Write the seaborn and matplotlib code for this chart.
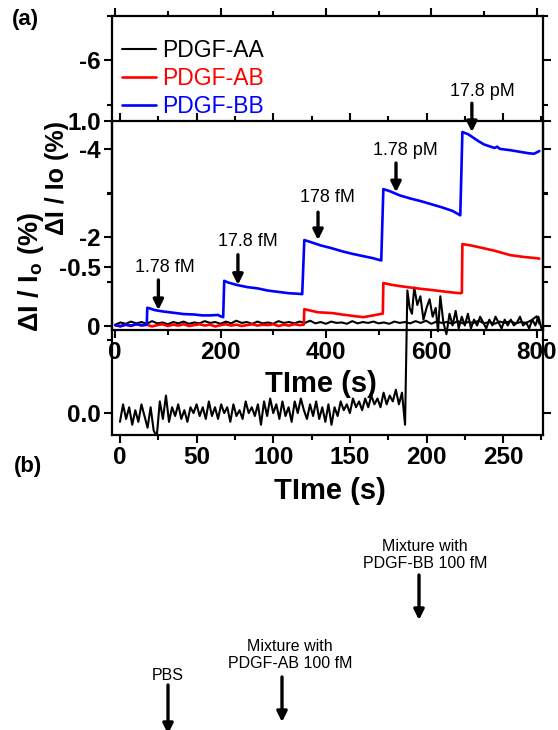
import matplotlib
matplotlib.use("Agg")
import matplotlib.pyplot as plt
import seaborn as sns
import pandas as pd
from matplotlib.ticker import MultipleLocator, FixedLocator, FixedFormatter

# ---------------- data ----------------
# Panel (a): time (s) and dI/I0 (%)
aa_t = [0, 10, 20, 30, 40, 50, 60, 70, 80, 90, 100, 110, 120, 130, 140, 150, 160, 170, 180, 190,
        200, 210, 220, 230, 240, 250, 260, 270, 280, 290, 300, 310, 320, 330, 340, 350, 360, 370, 380, 390,
        400, 410, 420, 430, 440, 450, 460, 470, 480, 490, 500, 510, 520, 530, 540, 550, 560, 570, 580, 590,
        600, 610, 620, 630, 640, 650, 660, 670, 680, 690, 700, 710, 720, 730, 740, 750, 760, 770, 780, 790,
        800, 805]
aa_v = [-0.03, -0.08, -0.05, -0.10, -0.06, -0.09, -0.05, -0.11, -0.06, -0.08, -0.04, -0.09, -0.06, -0.10,
        -0.05, -0.08, -0.06, -0.11, -0.07, -0.09, -0.05, -0.10, -0.06, -0.12, -0.07, -0.09, -0.05, -0.10,
        -0.06, -0.08, -0.05, -0.11, -0.07, -0.09, -0.06, -0.10, -0.07, -0.12, -0.06, -0.09, -0.05, -0.10,
        -0.07, -0.08, -0.05, -0.11, -0.06, -0.09, -0.07, -0.10, -0.06, -0.08, -0.05, -0.10, -0.07, -0.09,
        -0.06, -0.11, -0.07, -0.12, -0.05, -0.10, -0.07, -0.09, -0.05, -0.11, -0.06, -0.09, -0.07, -0.12,
        -0.06, -0.09, -0.05, -0.10, -0.07, -0.11, -0.06, -0.09, -0.07, -0.13, -0.22, -0.05]

ab_t = [0, 10, 20, 30, 40, 50, 60, 70, 80, 90, 100, 110, 120, 130, 140, 150, 160, 170, 180, 190,
        200, 210, 220, 230, 240, 250, 260, 270, 280, 290, 300, 310, 320, 330, 340, 350, 358,
        359, 370, 385, 400, 414, 430, 450, 471, 490, 503, 508,
        509, 525, 541, 560, 580, 603, 630, 655, 658,
        659, 675, 698, 720, 750, 775, 801, 805]
ab_v = [-0.02, 0.01, -0.03, 0.00, -0.04, -0.01, -0.03, 0.01, -0.02, -0.04, 0.00, -0.03, -0.01, -0.04,
        0.00, -0.02, -0.04, -0.01, -0.03, 0.01, -0.02, -0.04, -0.01, -0.03, 0.00, -0.02, -0.04, -0.01,
        -0.03, -0.02, -0.04, 0.00, -0.03, -0.01, -0.04, -0.02, -0.03,
        -0.38, -0.35, -0.31, -0.30, -0.29, -0.26, -0.23, -0.20, -0.24, -0.27, -0.28,
        -0.97, -0.93, -0.90, -0.87, -0.84, -0.81, -0.77, -0.74, -0.75,
        -1.85, -1.82, -1.76, -1.70, -1.60, -1.56, -1.53, -1.52]

bb_t = [0, 10, 20, 30, 40, 50, 60,
        61, 65, 75, 90, 110, 130, 150, 165, 180, 195, 200, 205,
        207, 215, 230, 250, 270, 290, 310, 330, 345, 355,
        359, 370, 390, 410, 430, 450, 470, 490, 505,
        509, 520, 540, 560, 580, 600, 620, 640, 655,
        659, 670, 680, 690, 700, 710, 720, 725, 730, 750, 770, 785, 795, 805]
bb_v = [-0.02, 0.00, -0.03, -0.01, -0.04, -0.02, -0.03,
        -0.41, -0.40, -0.36, -0.33, -0.30, -0.27, -0.26, -0.24, -0.24, -0.25, -0.22, -0.20,
        -1.02, -0.98, -0.93, -0.88, -0.85, -0.80, -0.77, -0.74, -0.73, -0.72,
        -1.94, -1.90, -1.82, -1.76, -1.69, -1.63, -1.58, -1.53, -1.48,
        -3.09, -3.05, -2.95, -2.88, -2.82, -2.75, -2.68, -2.60, -2.50,
        -4.38, -4.33, -4.25, -4.17, -4.10, -4.06, -4.02, -4.05, -4.00, -3.97, -3.93, -3.90, -3.89, -3.95]

# Panel (b): time (s) and dI/I0 (%)
b_t = [0, 2, 4, 6, 8, 10, 12, 14, 16, 18, 20, 22, 24, 26, 28, 30, 32, 34, 36, 38,
       40, 42, 44, 46, 48, 50, 52, 54, 56, 58, 60, 62, 64, 66, 68, 70, 72, 74, 76, 78,
       80, 82, 84, 86, 88, 90, 92, 94, 96, 98, 100, 102, 104, 106, 108, 110, 112, 114, 116, 118,
       120, 122, 124, 126, 128, 130, 132, 134, 136, 138, 140, 142, 144, 146, 148, 150, 152, 154, 156, 158,
       160, 162, 164, 166, 168, 170, 172, 174, 176, 178, 180, 182, 184, 186,
       187.5, 189, 190.5, 192, 194, 196, 198, 200, 202, 204, 206, 207.5, 209, 211, 213, 215, 217, 219,
       221, 223, 225, 227, 229, 231, 233, 235, 237, 239, 241, 243, 245, 247, 249, 251, 253, 255,
       257, 259, 261, 263, 265, 267, 269, 271, 273, 275]
b_v = [0.03, -0.03, 0.02, -0.02, 0.04, -0.01, 0.03, -0.03, 0.01, 0.05, -0.02, 0.06, 0.08, -0.04,
       0.02, -0.06, 0.03, -0.02, 0.01, -0.03, 0.02, -0.01, 0.03, -0.02, 0.00, -0.03, 0.01, -0.02,
       0.02, -0.04, 0.01, -0.02, 0.02, -0.03, 0.00, -0.02, 0.03, -0.03, 0.01, -0.01, 0.02, -0.04,
       0.00, -0.02, 0.01, -0.03, 0.04, -0.04, 0.01, -0.05, 0.00, -0.03, 0.02, -0.04, 0.01, -0.02,
       0.03, -0.04, 0.00, -0.05, -0.01, 0.02, -0.03, 0.01, -0.04, 0.02, -0.02, 0.03, -0.03, 0.04,
       -0.02, 0.01, -0.04, -0.01, -0.03, 0.00, -0.05, -0.02, -0.04, -0.01, -0.05, -0.02, -0.06,
       -0.03, -0.05, -0.02, -0.07, -0.03, -0.06, -0.04, -0.08, -0.03, -0.07, 0.04,
       -0.42, -0.36, -0.34, -0.43, -0.37, -0.40, -0.32, -0.36, -0.39, -0.33, -0.36, -0.28, -0.40,
       -0.31, -0.27, -0.34, -0.30, -0.35, -0.29, -0.33, -0.30, -0.34, -0.29, -0.32, -0.30, -0.33,
       -0.31, -0.29, -0.32, -0.30, -0.33, -0.31, -0.29, -0.32, -0.30, -0.32, -0.30, -0.31, -0.33,
       -0.30, -0.31, -0.29, -0.32, -0.30, -0.33, -0.29]

series_names = ["PDGF-AA", "PDGF-AB", "PDGF-BB"]
series_colors = ["#000000", "#FF0000", "#0000FF"]

conc_labels = ["1.78 fM", "17.8 fM", "178 fM", "1.78 pM", "17.8 pM"]
conc_arrow_t = [82, 233, 385, 533, 677]
conc_arrow_tip = [-0.36, -0.93, -1.94, -3.02, -4.38]
conc_arrow_tail = [-1.04, -1.61, -2.57, -3.68, -5.03]
conc_text_t = [95, 252, 402, 550, 696]
conc_text_v = [-1.31, -1.90, -2.91, -3.97, -5.30]

a_xticks = [0, 200, 400, 600, 800]
a_yticks = [-6, -4, -2, 0]
a_yticklabels = ["-6", "-4", "-2", "0"]
b_xticks = [0, 50, 100, 150, 200, 250]
b_yticks = [0.0, -0.5, -1.0]
b_yticklabels = ["0.0", "-0.5", "1.0"]

# ---------------- style ----------------
sns.set_style("ticks")
plt.rcParams["font.family"] = ["Liberation Sans", "DejaVu Sans"]
plt.rcParams["mathtext.fontset"] = "custom"
plt.rcParams["mathtext.rm"] = "Liberation Sans"
plt.rcParams["mathtext.bf"] = "Liberation Sans:bold"
plt.rcParams["axes.unicode_minus"] = False
for k in ["text.color", "axes.labelcolor", "xtick.color", "ytick.color", "axes.edgecolor"]:
    plt.rcParams[k] = "black"

W, H = 558, 730
fig = plt.figure(figsize=(W / 100, H / 100), dpi=100)


def rect(l, t, r, b):
    return [l / W, 1 - b / H, (r - l) / W, (b - t) / H]


ax_b = fig.add_axes(rect(112, 121, 543, 435))
ax_a = fig.add_axes(rect(112, 16, 543, 330))
for ax in (ax_a, ax_b):
    ax.set_facecolor("none")
    for s in ax.spines.values():
        s.set_visible(True)
        s.set_linewidth(1.6)
        s.set_color("black")

# ---- panel (b) trace ----
df_b = pd.DataFrame({"t": b_t, "v": b_v})
sns.lineplot(data=df_b, x="t", y="v", ax=ax_b, color="black", lw=1.5,
             estimator=None, sort=False, legend=False)

# ---- panel (a) traces ----
for name, col, tt, vv, lw in zip(series_names, series_colors,
                                 [aa_t, ab_t, bb_t], [aa_v, ab_v, bb_v], [1.5, 1.9, 1.9]):
    df = pd.DataFrame({"t": tt, "v": vv})
    sns.lineplot(data=df, x="t", y="v", ax=ax_a, color=col, lw=lw,
                 estimator=None, sort=False, label=name)

ax_a.set_xlim(-6, 812)
ax_a.set_ylim(0.09, -7.0)
ax_a.xaxis.set_major_locator(FixedLocator(a_xticks))
ax_a.xaxis.set_minor_locator(MultipleLocator(100))
ax_a.yaxis.set_major_locator(FixedLocator(a_yticks))
ax_a.yaxis.set_major_formatter(FixedFormatter(a_yticklabels))
ax_a.yaxis.set_minor_locator(FixedLocator([-7, -5, -3, -1]))

ax_b.set_xlim(-5.2, 276)
ax_b.set_ylim(0.075, -1.0)
ax_b.xaxis.set_major_locator(FixedLocator(b_xticks))
ax_b.xaxis.set_minor_locator(MultipleLocator(25))
ax_b.yaxis.set_major_locator(FixedLocator(b_yticks))
ax_b.yaxis.set_major_formatter(FixedFormatter(b_yticklabels))
ax_b.yaxis.set_minor_locator(FixedLocator([-0.25, -0.75]))

for ax in (ax_a, ax_b):
    ax.tick_params(which="both", direction="out", top=True, right=True,
                   labeltop=False, labelright=False, width=1.5, color="black",
                   labelcolor="black")
    ax.tick_params(which="major", length=6, pad=2, labelsize=17.5)
    ax.tick_params(which="minor", length=3.5)
    for lab in ax.get_xticklabels() + ax.get_yticklabels():
        lab.set_fontweight("bold")

# axis labels
ax_a.set_xlabel("TIme (s)", fontsize=21, fontweight="bold", color="black")
ax_a.xaxis.set_label_coords((321 - 112) / 431, (330 - 384) / 314)
ax_a.xaxis.label.set_va("center")
ax_b.set_xlabel("TIme (s)", fontsize=21, fontweight="bold", color="black")
ax_b.xaxis.set_label_coords((330 - 112) / 431, (435 - 491) / 314)
ax_b.xaxis.label.set_va("center")

ax_a.set_ylabel(r"ΔI / I$_\mathbf{o}$ (%)", fontsize=19.5, fontweight="bold", color="black")
ax_a.yaxis.set_label_coords((31 - 112) / 431, (330 - 272) / 314)
ax_a.yaxis.label.set_va("center")
ax_b.set_ylabel("ΔI / Io (%)", fontsize=18, fontweight="bold", color="black")
ax_b.yaxis.set_label_coords((57 - 112) / 431, (435 - 178) / 314)
ax_b.yaxis.label.set_va("center")

# legend
ax_a.legend(loc="upper left", bbox_to_anchor=(122 / W, 1 - 39 / H), bbox_transform=fig.transFigure,
            frameon=False, fontsize=16.5, handlelength=1.5, handletextpad=0.25,
            labelspacing=0.21, borderpad=0, borderaxespad=0, labelcolor="linecolor")

# concentration annotations
arrow_kw = dict(arrowstyle="-|>", lw=2.4, color="black", mutation_scale=15, shrinkA=0, shrinkB=0)
for lab, at, tip, tail, tx, tv in zip(conc_labels, conc_arrow_t, conc_arrow_tip, conc_arrow_tail,
                                      conc_text_t, conc_text_v):
    ax_a.annotate("", xy=(at, tip), xytext=(at, tail), arrowprops=arrow_kw)
    ax_a.text(tx, tv, lab, fontsize=13, ha="center", va="center", color="black")

# panel letters
fig.text(25 / W, 1 - 19 / H, "(a)", fontsize=16, fontweight="bold", ha="center", va="center",
         color="black")
fig.text(28 / W, 1 - 466 / H, "(b)", fontsize=16, fontweight="bold", ha="center", va="center",
         color="black")

# bottom annotations (figure pixels)
fig.text(168 / W, 1 - 675 / H, "PBS", fontsize=11.5, ha="center", va="center", color="black")
fig.text(290 / W, 1 - 655 / H, "Mixture with\nPDGF-AB 100 fM", fontsize=11.5, ha="center",
         va="center", linespacing=1.15, color="black")
fig.text(425 / W, 1 - 555 / H, "Mixture with\nPDGF-BB 100 fM", fontsize=11.5, ha="center",
         va="center", linespacing=1.15, color="black")
for x, y0, y1 in [(168, 685, 734), (282, 677, 722), (419, 575, 620)]:
    ax_a.annotate("", xy=(x, H - y1), xytext=(x, H - y0), xycoords="figure pixels",
                  textcoords="figure pixels", arrowprops=arrow_kw, annotation_clip=False)

fig.savefig("out.png", dpi=100)
